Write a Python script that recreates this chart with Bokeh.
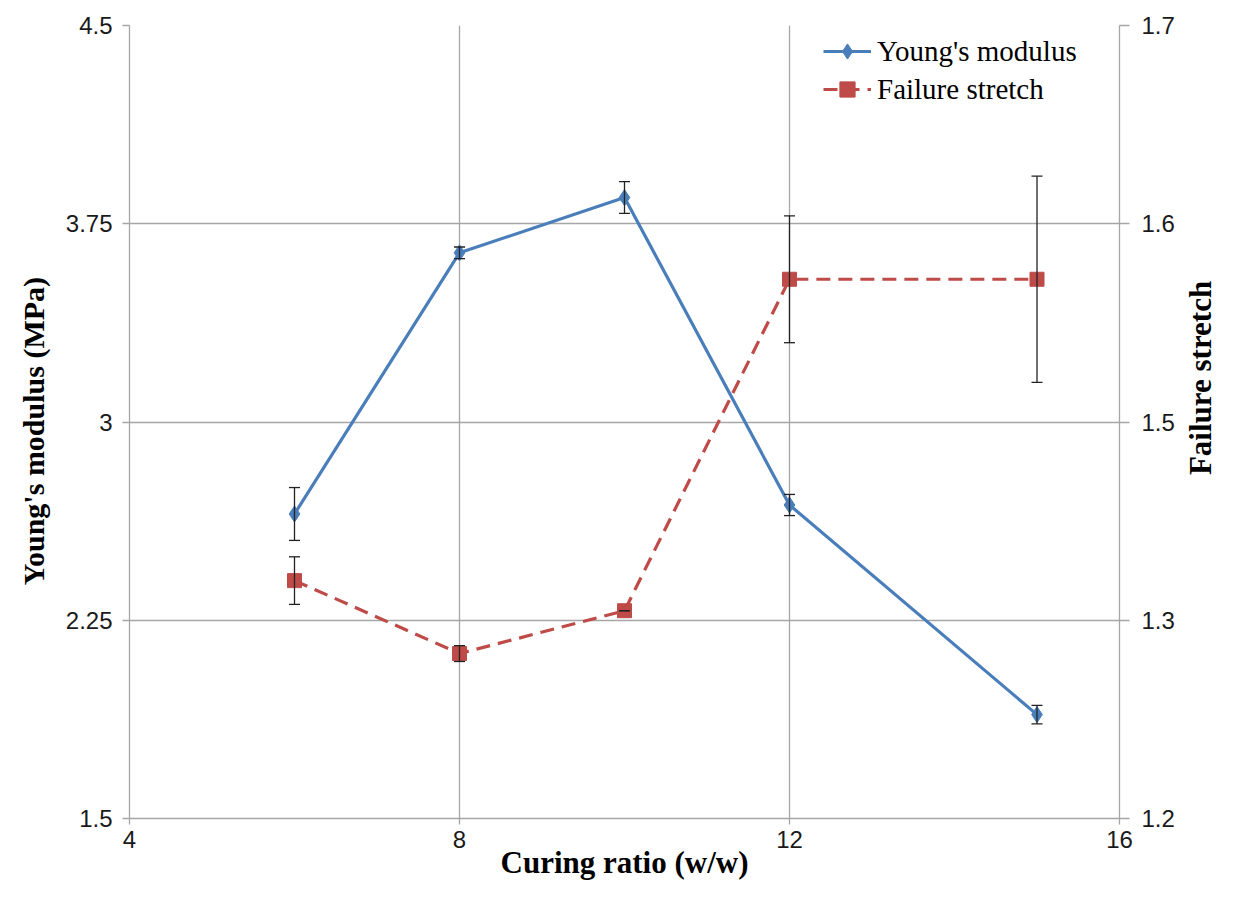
import math
from bokeh.plotting import figure
from bokeh.layouts import row
from bokeh.models import Range1d, LinearAxis, FixedTicker, Whisker, ColumnDataSource, TeeHead
from bokeh.core.properties import value
from bokeh.embed import file_html
from bokeh.resources import INLINE

# ---- data ----
curing_ratio = [6, 8, 10, 12, 15]
youngs_modulus = [2.652, 3.640, 3.849, 2.686, 1.893]
youngs_err = [0.100, 0.022, 0.060, 0.040, 0.035]
failure_stretch = [1.350, 1.304, 1.331, 1.540, 1.540]
stretch_err = [0.015, 0.005, 0.0, 0.040, 0.065]

x_ticks = [4, 8, 12, 16]
x_tick_labels = ["4", "8", "12", "16"]
left_ticks = [1.5, 2.25, 3.0, 3.75, 4.5]
left_tick_labels = ["1.5", "2.25", "3", "3.75", "4.5"]
right_ticks = [1.2, 1.325, 1.45, 1.575, 1.7]
right_tick_labels = ["1.2", "1.3", "1.5", "1.6", "1.7"]

x_title = "Curing ratio (w/w)"
left_title = "Young's modulus  (MPa)"
right_title = "Failure stretch"

BLUE = "#4a7ebb"
RED = "#be4b48"
GRID = "#a6a6a6"
H = 882
LEFT_W, RIGHT_W = 52, 39
MAIN_W = 1217 - LEFT_W - RIGHT_W

src_y = ColumnDataSource(dict(
    x=curing_ratio, y=youngs_modulus,
    lo=[v - e for v, e in zip(youngs_modulus, youngs_err)],
    hi=[v + e for v, e in zip(youngs_modulus, youngs_err)]))
src_s = ColumnDataSource(dict(
    x=curing_ratio, y=failure_stretch,
    lo=[v - e for v, e in zip(failure_stretch, stretch_err)],
    hi=[v + e for v, e in zip(failure_stretch, stretch_err)]))

p = figure(width=MAIN_W, height=H, output_backend="svg", toolbar_location=None,
           x_range=Range1d(4, 16), y_range=Range1d(1.5, 4.5),
           min_border_left=77, min_border_right=59, min_border_top=25, min_border_bottom=55)
p.extra_y_ranges = {"stretch": Range1d(1.2, 1.7)}
p.outline_line_color = None
p.background_fill_color = "white"

# grids
p.xgrid.ticker = FixedTicker(ticks=x_ticks)
p.ygrid.ticker = FixedTicker(ticks=left_ticks)
for g in (p.xgrid, p.ygrid):
    g.grid_line_color = GRID
    g.grid_line_width = 1.3

def style_axis(ax):
    ax.axis_line_color = GRID
    ax.axis_line_width = 1.3
    ax.major_tick_line_color = GRID
    ax.major_tick_line_width = 1.3
    ax.major_tick_in = 0
    ax.major_tick_out = 7
    ax.minor_tick_in = 0
    ax.minor_tick_out = 0
    ax.major_label_text_font = "Liberation Sans"
    ax.major_label_text_font_size = "24px"
    ax.major_label_text_color = "#1a1a1a"
    ax.axis_label_text_font = "Liberation Serif"
    ax.axis_label_text_font_style = "bold"
    ax.axis_label_text_color = "black"

# x axis
xa = p.xaxis[0]
xa.ticker = FixedTicker(ticks=x_ticks)
xa.major_label_overrides = {t: s for t, s in zip(x_ticks, x_tick_labels)}
style_axis(xa)
xa.major_tick_out = 6
xa.major_label_standoff = 6
xa.axis_label = x_title
xa.axis_label_text_font_size = "31px"
xa.axis_label_standoff = -6

# left axis (title drawn in the left strip)
ya = p.yaxis[0]
ya.ticker = FixedTicker(ticks=left_ticks)
ya.major_label_overrides = {t: s for t, s in zip(left_ticks, left_tick_labels)}
style_axis(ya)
ya.major_label_standoff = 10

# right axis (title drawn in the right strip)
ra = LinearAxis(y_range_name="stretch")
ra.ticker = FixedTicker(ticks=right_ticks)
ra.major_label_overrides = {t: s for t, s in zip(right_ticks, right_tick_labels)}
style_axis(ra)
ra.major_tick_out = 10
ra.major_label_standoff = 12
p.add_layout(ra, "right")

# error bars
for src, rng in ((src_y, "default"), (src_s, "stretch")):
    w = Whisker(source=src, base="x", lower="lo", upper="hi", dimension="height",
                y_range_name=rng, line_color="#222222", line_width=1.3, level="glyph",
                upper_head=TeeHead(size=11, line_color="#222222", line_width=1.3),
                lower_head=TeeHead(size=11, line_color="#222222", line_width=1.3))
    p.add_layout(w)

# series
p.line("x", "y", source=src_y, line_color=BLUE, line_width=3.2, legend_label="Young's modulus")
p.scatter("x", "y", source=src_y, marker="diamond", size=16, fill_color=BLUE, line_color=BLUE,
          legend_label="Young's modulus")
p.line("x", "y", source=src_s, y_range_name="stretch", line_color=RED, line_width=3.2,
       line_dash="14 8", legend_label="Failure stretch")
p.scatter("x", "y", source=src_s, y_range_name="stretch", marker="square", size=14,
          fill_color=RED, line_color=RED, legend_label="Failure stretch")

leg = p.legend[0]
leg.location = (694, 710)
leg.border_line_color = None
leg.background_fill_alpha = 0
leg.padding = 0
leg.spacing = 0
leg.margin = 0
leg.glyph_width = 48
leg.glyph_height = 38
leg.label_height = 38
leg.label_standoff = 6
leg.label_text_font = "Liberation Serif"
leg.label_text_font_size = "29px"
leg.label_text_color = "black"

# side strips holding the rotated axis titles (pixel coordinates inside the strips)
def title_strip(width, text, cx, cy, size):
    s = figure(width=width, height=H, output_backend="svg", toolbar_location=None,
               x_range=Range1d(0, width), y_range=Range1d(0, H),
               x_axis_type=None, y_axis_type=None, min_border=0)
    s.outline_line_color = None
    s.grid.visible = False
    s.text(x=[cx], y=[H - cy], text=[text], angle=math.pi / 2,
           text_align="center", text_baseline="middle",
           text_font=value("Liberation Serif"), text_font_style="bold",
           text_font_size=size, text_color="black")
    return s

left_strip = title_strip(LEFT_W, left_title, 33, 447, "30px")
right_strip = title_strip(RIGHT_W, right_title, 22, 392, "31px")

layout = row(left_strip, p, right_strip, spacing=0)
open("out.html", "w").write(file_html(layout, INLINE))
